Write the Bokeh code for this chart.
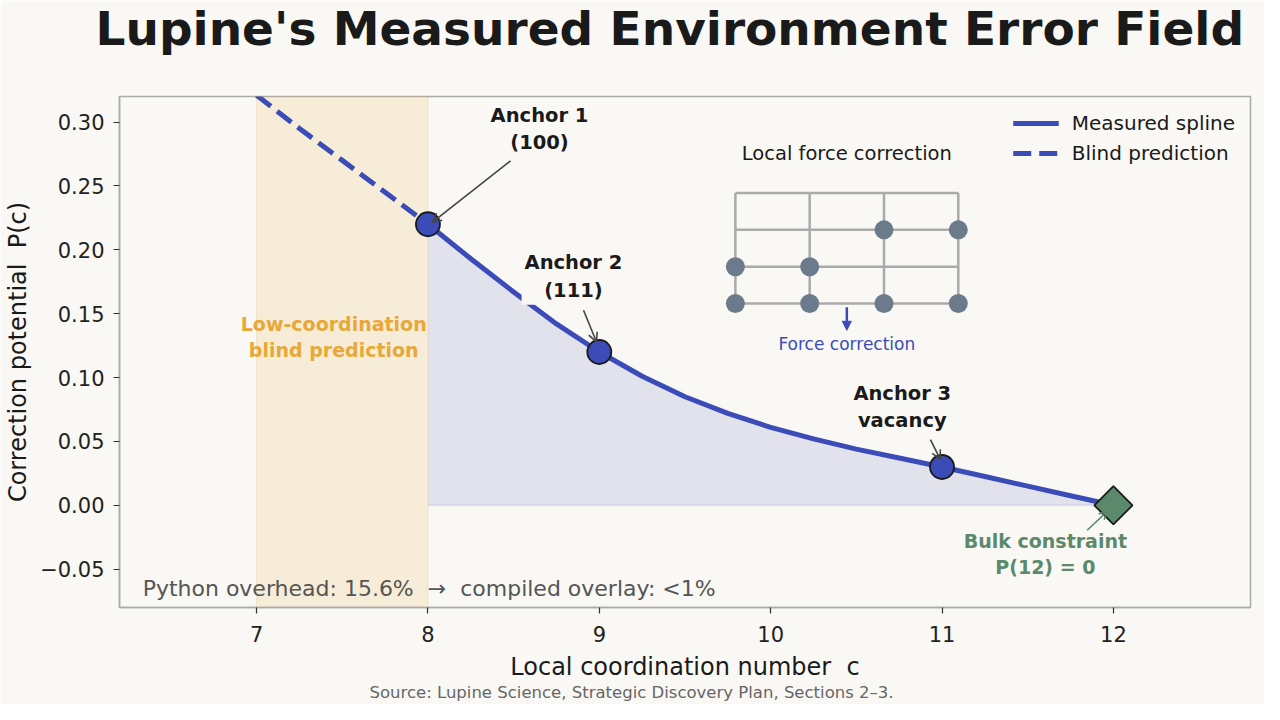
from bokeh.plotting import figure
from bokeh.models import (Label, Arrow, OpenHead, NormalHead, BoxAnnotation,
                          FixedTicker, CustomJSTickFormatter, Title)
from bokeh.embed import file_html
from bokeh.resources import INLINE

# measured spline P(c)
spline_c = [8.0, 8.25, 8.5, 8.75, 9.0, 9.25, 9.5, 9.75, 10.0, 10.25, 10.5, 10.75, 11.0, 11.25, 11.5, 11.75, 12.0]
spline_p = [0.220, 0.193, 0.167, 0.142, 0.120, 0.101, 0.085, 0.072, 0.061, 0.052, 0.044, 0.037, 0.030, 0.0225, 0.015, 0.0075, 0.0]

# blind prediction below c = 8
blind_c = [7.0, 7.25, 7.5, 7.75, 8.0]
blind_p = [0.321, 0.295, 0.270, 0.245, 0.220]

anchor_c = [8, 9, 11]
anchor_p = [0.22, 0.12, 0.03]
anchor_text = ["Anchor 1\n(100)", "Anchor 2\n(111)", "Anchor 3\nvacancy"]

bulk_c = [12]
bulk_p = [0.0]

band_c = [7, 8]

x_ticks = [7, 8, 9, 10, 11, 12]
y_ticks = [-0.05, 0.0, 0.05, 0.10, 0.15, 0.20, 0.25, 0.30]

# inset lattice (column / row indices)
lattice_cols = [0, 1, 2, 3]
lattice_rows = [0, 1, 2, 3]
atom_col = [0, 1, 2, 3, 0, 1, 2, 3]
atom_row = [0, 0, 0, 0, 1, 1, 2, 2]

BG = "#f9f8f4"
BLUE = "#3b4cb8"
ORANGE = "#e8a838"
GREEN = "#5a8a6b"
SLATE = "#6b7b8c"
INK = "#1a1a1a"
FONT = "DejaVu Sans"

p = figure(width=1264, height=704, x_range=(6.2, 12.8), y_range=(-0.08, 0.32),
           output_backend="svg", toolbar_location=None,
           background_fill_color=BG, border_fill_color=BG,
           min_border_left=119, min_border_right=14, min_border_top=96, min_border_bottom=97)

p.title.text = "Lupine's Measured Environment Error Field"
p.title.text_font = FONT
p.title.text_font_size = "47px"
p.title.text_font_style = "bold"
p.title.text_color = INK
p.title.align = "left"
p.title.offset = -24
p.title.vertical_align = "top"
p.title.standoff = 0

# blank spacer between title and frame keeps the frame top at y = 96
spacer = Title(text="\u00a0", text_font=FONT, text_font_size="10px", standoff=25.6)
p.add_layout(spacer, "above")

src = Title(text="Source: Lupine Science, Strategic Discovery Plan, Sections 2\u20133.",
            align="left", offset=250, text_font=FONT, text_font_size="16.5px",
            text_font_style="normal", text_color="#666666")
try:
    src.standoff = -6
except ValueError:
    src.standoff = 0
p.add_layout(src, "below")

p.grid.visible = False
p.outline_line_color = "#aaaaaa"
p.outline_line_width = 1.5

p.xaxis.ticker = FixedTicker(ticks=x_ticks)
p.yaxis.ticker = FixedTicker(ticks=y_ticks)
p.yaxis.formatter = CustomJSTickFormatter(
    code="return (tick < -1e-9 ? '\u2212' : '') + Math.abs(tick).toFixed(2);")
p.xaxis.axis_label = "Local coordination number\u00a0 c"
p.yaxis.axis_label = "Correction potential\u00a0 P(c)"
for ax in p.axis:
    ax.axis_line_color = "#aaaaaa"
    ax.axis_line_width = 1.5
    ax.minor_tick_line_color = None
    ax.major_tick_in = 0
    ax.major_tick_out = 6
    ax.major_tick_line_color = "#333333"
    ax.major_tick_line_width = 1.2
    ax.major_label_text_font = FONT
    ax.major_label_text_font_size = "21px"
    ax.major_label_text_color = "#222222"
    ax.axis_label_text_font = FONT
    ax.axis_label_text_font_size = "24px"
    ax.axis_label_text_font_style = "normal"
    ax.axis_label_text_color = INK
p.xaxis.major_label_standoff = 12
p.xaxis.axis_label_standoff = 8
p.yaxis.major_label_standoff = 9
p.yaxis.axis_label_standoff = 5

# low-coordination band
band = BoxAnnotation(left=band_c[0], right=band_c[1], fill_color=ORANGE, fill_alpha=0.15,
                     line_color=ORANGE, line_alpha=0.2, level="underlay")
p.add_layout(band)

# area under measured spline
p.varea(x=spline_c, y1=0, y2=spline_p, fill_color=BLUE, fill_alpha=0.12)
p.line(x=[spline_c[0], spline_c[-1]], y=[0, 0], line_color=BLUE, line_alpha=0.12, line_width=1.5)

p.line(blind_c, blind_p, line_color=BLUE, line_width=5, line_dash="18 8",
       legend_label="Blind prediction")
p.line(spline_c, spline_p, line_color=BLUE, line_width=5, line_join="round",
       legend_label="Measured spline")

p.scatter(anchor_c, anchor_p, size=24, fill_color=BLUE, line_color=INK, line_width=1.8)
p.scatter(bulk_c, bulk_p, marker="square", angle=0.7854, size=27, fill_color=GREEN,
          line_color=INK, line_width=1.8)

# legend: measured first
p.legend.items = [p.legend.items[1], p.legend.items[0]]
p.legend.location = "top_right"
p.legend.border_line_color = None
p.legend.background_fill_alpha = 0
p.legend.label_text_font = FONT
p.legend.label_text_font_size = "20px"
p.legend.label_text_color = INK
p.legend.glyph_width = 46
p.legend.label_standoff = 13
p.legend.spacing = 6
p.legend.margin = 15
p.legend.padding = 8

# anchor annotations: text offset and arrow tail/tip offsets (data units)
text_off = [(0.651, 0.0746), (-0.151, 0.0592), (-0.232, 0.0471)]
tail_off = [(0.482, 0.0496), (-0.092, 0.0327), (-0.068, 0.0214)]
tip_off = [(0.025, 0.0015), (-0.017, 0.008), (-0.010, 0.006)]
for c, v, t, to, ta, tp in zip(anchor_c, anchor_p, anchor_text, text_off, tail_off, tip_off):
    p.add_layout(Arrow(x_start=c + ta[0], y_start=v + ta[1], x_end=c + tp[0], y_end=v + tp[1],
                       line_color="#444444", line_width=1.6,
                       end=OpenHead(size=9, line_color="#444444", line_width=1.6)))
    p.add_layout(Label(x=c + to[0], y=v + to[1], text=t, text_align="center",
                       text_baseline="middle", text_font=FONT, text_font_size="19.5px",
                       text_font_style="bold", text_color=INK,
                       background_fill_color=BG, padding=3))

# bulk constraint
p.add_layout(Arrow(x_start=bulk_c[0] - 0.153, y_start=bulk_p[0] - 0.0195,
                   x_end=bulk_c[0] - 0.036, y_end=bulk_p[0] - 0.0047,
                   line_color=GREEN, line_width=1.6,
                   end=OpenHead(size=8, line_color=GREEN, line_width=1.6)))
p.add_layout(Label(x=bulk_c[0] - 0.397, y=bulk_p[0] - 0.038, text="Bulk constraint\nP(12) = 0",
                   text_align="center", text_baseline="middle", text_font=FONT,
                   text_font_size="19px", text_font_style="bold", text_color=GREEN))

p.add_layout(Label(x=(band_c[0] + band_c[1]) / 2 - 0.05, y=0.1317,
                   text="Low-coordination\nblind prediction", text_align="center",
                   text_baseline="middle", text_font=FONT, text_font_size="19px",
                   text_font_style="bold", text_color=ORANGE))

p.add_layout(Label(x=6.335, y=-0.0655,
                   text="Python overhead: 15.6%\u00a0 \u2192\u00a0 compiled overlay: <1%",
                   text_align="left", text_baseline="middle", text_font=FONT,
                   text_font_size="22px", text_color="#555555"))

# inset: local force correction lattice
x0, dx = 9.794, 0.4336
y0, dy = 0.158, 0.0288
xs, ys = [], []
for c in lattice_cols:
    xs.append([x0 + c * dx, x0 + c * dx])
    ys.append([y0 + lattice_rows[0] * dy, y0 + lattice_rows[-1] * dy])
for r in lattice_rows:
    xs.append([x0 + lattice_cols[0] * dx, x0 + lattice_cols[-1] * dx])
    ys.append([y0 + r * dy, y0 + r * dy])
p.multi_line(xs, ys, line_color="#aaaaaa", line_width=2.5)
p.scatter([x0 + c * dx for c in atom_col], [y0 + r * dy for r in atom_row],
          size=19, fill_color=SLATE, line_color=None)

xc = x0 + 1.5 * dx
p.add_layout(Label(x=xc, y=0.2751, text="Local force correction", text_align="center",
                   text_baseline="middle", text_font=FONT, text_font_size="19.5px",
                   text_color=INK))
p.add_layout(Arrow(x_start=xc, y_start=y0 - 0.003, x_end=xc, y_end=y0 - 0.021,
                   line_color=BLUE, line_width=2.5,
                   end=NormalHead(size=9, fill_color=BLUE, line_color=BLUE)))
p.add_layout(Label(x=xc, y=0.1262, text="Force correction", text_align="center",
                   text_baseline="middle", text_font=FONT, text_font_size="17px",
                   text_color=BLUE))

open("out.html", "w").write(file_html(p, INLINE))
